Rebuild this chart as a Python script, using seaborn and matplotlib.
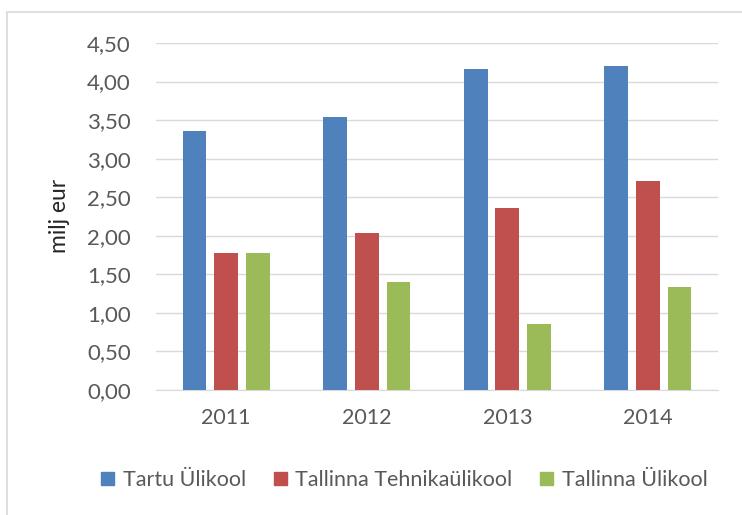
import matplotlib
matplotlib.use('Agg')
import matplotlib.pyplot as plt
import matplotlib.patches as mpatches
import pandas as pd
import seaborn as sns

years = ['2011', '2012', '2013', '2014']
tartu = [3.36, 3.54, 4.16, 4.20]
ttu = [1.78, 2.04, 2.36, 2.71]
tlu = [1.78, 1.40, 0.86, 1.34]
series_names = ['Tartu Ülikool', 'Tallinna Tehnikaülikool', 'Tallinna Ülikool']
colors = ['#4F81BD', '#C0504D', '#9BBB59']
yticks = [0, 0.5, 1, 1.5, 2, 2.5, 3, 3.5, 4, 4.5]

df = pd.DataFrame({
    'year': years * 3,
    'value': tartu + ttu + tlu,
    'school': [series_names[0]] * 4 + [series_names[1]] * 4 + [series_names[2]] * 4,
})

sns.set_style('white')
plt.rcParams['font.family'] = ['Lato', 'DejaVu Sans']
txt = '#595959'

fig = plt.figure(figsize=(7.42, 5.15), dpi=100)
ax = fig.add_axes([0.21, 0.243, 0.758, 0.6735])

sns.barplot(data=df, x='year', y='value', hue='school', palette=colors, saturation=1,
            width=0.675, gap=0.25, ax=ax, legend=False, linewidth=0, zorder=3)

ax.set_ylim(0, 4.5)
ax.set_xlim(-0.5, 3.5)
ax.set_yticks(yticks)
ax.set_yticklabels([f'{v:.2f}'.replace('.', ',') for v in yticks], fontsize=16, color=txt)
ax.tick_params(axis='x', labelsize=15.5, colors=txt, length=0, pad=13)
ax.tick_params(axis='y', length=0, pad=18)
ax.yaxis.grid(True, color='#D9D9D9', linewidth=1, zorder=0)
ax.set_axisbelow(True)
for s in ['top', 'right', 'left']:
    ax.spines[s].set_visible(False)
ax.spines['bottom'].set_color('#D9D9D9')
ax.set_xlabel('')
ax.set_ylabel('milj eur', fontsize=16.5, color='#262626', labelpad=12)

handles = [mpatches.Patch(color=c, label=n) for c, n in zip(colors, series_names)]
fig.legend(handles=handles, loc='center', bbox_to_anchor=(0.545, 0.068), ncol=3,
           frameon=False, fontsize=15.5, labelcolor=txt, handlelength=0.6,
           handleheight=0.6, handletextpad=0.4, columnspacing=1.3)

fig.patches.append(mpatches.Rectangle((0.009, -0.01), 1.0, 0.987, transform=fig.transFigure,
                                      fill=False, edgecolor='#D9D9D9', linewidth=1.2))

fig.savefig('out.png', dpi=100)
